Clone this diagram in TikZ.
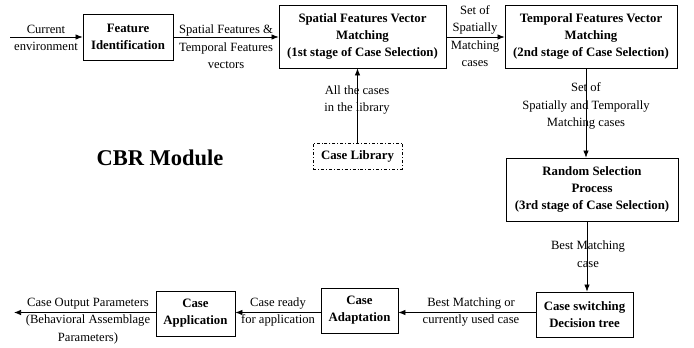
\documentclass[tikz,border=0pt]{standalone}
\usepackage{fontspec}
\setmainfont{Liberation Serif}
\usetikzlibrary{arrows.meta}
\begin{document}
\begin{tikzpicture}[x=1pt,y=-1pt,
  blk/.style={draw,line width=0.9pt,font=\fontsize{12.8}{17}\selectfont\bfseries,align=center,inner sep=0pt},
  lbl/.style={font=\fontsize{12.6}{17.5}\selectfont,align=center,inner sep=0pt},
  flow/.style={line width=0.7pt,-{Latex[length=7pt,width=5.5pt]}}]
\useasboundingbox (0,0) rectangle (694,348);

% process blocks
\node[blk,minimum width=90pt,minimum height=46pt] (fid) at (128,37) {Feature\\Identification};
\node[blk,minimum width=167pt,minimum height=63pt] (sfm) at (362.5,36.5) {Spatial Features Vector\\Matching\\(1st stage of Case Selection)};
\node[blk,minimum width=172pt,minimum height=63pt] (tfm) at (591,36.5) {Temporal Features Vector\\Matching\\(2nd stage of Case Selection)};
\node[blk,dash dot,minimum width=89pt,minimum height=26pt] (lib) at (357.5,156) {Case Library};
\node[blk,minimum width=172pt,minimum height=63pt] (rsp) at (592,189.5) {Random Selection\\Process\\(3rd stage of Case Selection)};
\node[blk,minimum width=97pt,minimum height=45pt] (csd) at (584.5,314.5) {Case switching\\Decision tree};
\node[blk,minimum width=77pt,minimum height=45pt] (cad) at (359.5,310.5) {Case\\Adaptation};
\node[blk,minimum width=79pt,minimum height=45pt] (cap) at (195.5,313.5) {Case\\Application};

\node[font=\fontsize{22.5}{26}\selectfont\bfseries,inner sep=0pt] (cbr) at (160,158) {CBR Module};

% free ends
\coordinate (in) at (10,37);
\coordinate (out) at (14,312.5);

% connectors
\draw[flow] (in) -- (fid.west |- in);
\draw[flow] (fid.east |- 0,37) -- (sfm.west |- 0,37);
\draw[flow] (sfm.east |- 0,37) -- (tfm.west |- 0,37);
\draw[flow] (lib.north) -- (sfm.south -| lib.north);
\draw[flow] (tfm.south -| 586,0) -- (rsp.north -| 586,0);
\draw[flow] (rsp.south -| 587,0) -- (csd.north -| 587,0);
\draw[flow] (csd.west |- 0,312.5) -- (cad.east |- 0,312.5);
\draw[flow] (cad.west |- 0,312.5) -- (cap.east |- 0,312.5);
\draw[flow] (cap.west |- out) -- (out);

% connector labels
\node[lbl] (l1a) at (46,29) {Current};
\node[lbl] (l1b) at (46,46) {environment};
\node[lbl] (l2) at (226,47) {Spatial Features \&\\Temporal Features\\vectors};
\node[lbl] (l3) at (475,36) {Set of\\Spatially\\Matching\\cases};
\node[lbl] (l4) at (357,100) {All the cases\\in the library};
\node[lbl] (l5) at (586,106) {Set of\\Spatially and Temporally\\Matching cases};
\node[lbl] (l6) at (588,254) {Best Matching\\case};
\node[lbl] (l7) at (471,312) {Best Matching or\\currently used case};
\node[lbl] (l8) at (278,312) {Case ready\\for application};
\node[lbl] (l9) at (88,321) {Case Output Parameters\\(Behavioral Assemblage\\Parameters)};
\end{tikzpicture}
\end{document}
